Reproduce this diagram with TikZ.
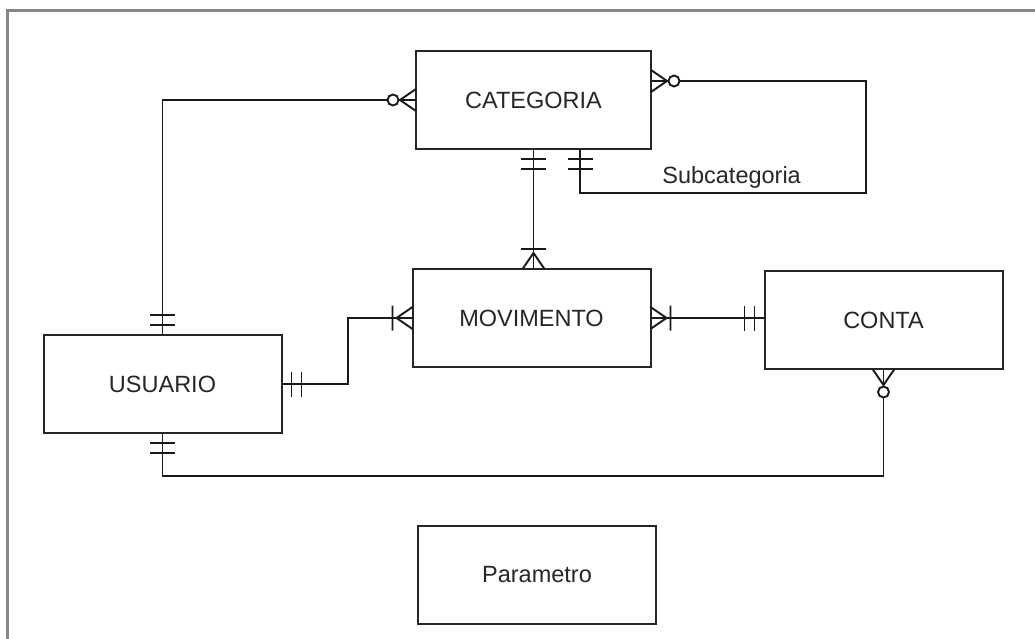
\documentclass[tikz,border=0pt]{standalone}
\usepackage{fontspec}
\setmainfont{Liberation Sans}

\tikzset{
	entity/.style={draw=black!85, line width=2pt, minimum width=238pt, minimum height=98pt,
		outer sep=0pt, text=black!85, font=\fontsize{23.5}{28}\selectfont},
	wire/.style={draw=black!90, line width=1.9pt},
	frame/.style={draw=black!47, line width=3pt},
	pics/onlyone/.style={code={\draw[wire] (10,-12.5) -- (10,12.5) (20,-12.5) -- (20,12.5);}},
	pics/onemany/.style={code={\draw[wire] (0,-11) -- (16,0) -- (0,11) (20,-12.5) -- (20,12.5);}},
	pics/zeromany/.style={code={\draw[wire] (0,-11) -- (16,0) -- (0,11); \draw[wire, fill=white] (23,0) circle (5.5);}},
}

\begin{document}
\begin{tikzpicture}[x=1pt, y=-1pt]
	\useasboundingbox (0,0) rectangle (1035,639);
	\draw[frame] (7,639) -- (7,10.5) -- (1035,10.5);
	% Entities:
	\node[entity, minimum width=235pt] (categoria) at (533.5,100) {CATEGORIA};
	\node[entity] (movimento) at (531.5,318) {MOVIMENTO};
	\node[entity] (conta) at (883.5,320) {CONTA};
	\node[entity] (usuario) at (162.5,384) {USUARIO};
	\node[entity] (parametro) at (537,574.5) {Parametro};
	% Bends:
	\coordinate (loopA) at (866,81);
	\coordinate (loopB) at (866,193);
	\coordinate (loopC) at (580,193);
	\coordinate (bendU) at (348,318);
	\coordinate (bendB) at (0,476);
	% Relationships:
	\draw[wire] (usuario.north) |- (categoria.west);
	\draw[wire] (categoria.east |- loopA) -- (loopA) -- (loopB)
		-- node[pos=0.47, above, inner sep=4pt, text=black!85, font=\fontsize{23.5}{28}\selectfont] {Subcategoria}
		(loopC) -- (loopC |- categoria.south);
	\draw[wire] (categoria.south) -- (categoria.south |- movimento.north);
	\draw[wire] (usuario.east) -| (bendU) -- (movimento.west);
	\draw[wire] (movimento.east) -- (movimento.east -| conta.west);
	\draw[wire] (usuario.south) |- (bendB -| conta.south) -- (conta.south);
	% Cardinalities:
	\pic[rotate=90] at (usuario.north) {onlyone};
	\pic[rotate=180] at (categoria.west) {zeromany};
	\pic at (categoria.east |- loopA) {zeromany};
	\pic[rotate=-90] at (loopC |- categoria.south) {onlyone};
	\pic[rotate=-90] at (categoria.south) {onlyone};
	\pic[rotate=90] at (categoria.south |- movimento.north) {onemany};
	\pic at (usuario.east) {onlyone};
	\pic[rotate=180] at (movimento.west) {onemany};
	\pic at (movimento.east) {onemany};
	\pic[rotate=180] at (movimento.east -| conta.west) {onlyone};
	\pic[rotate=-90] at (usuario.south) {onlyone};
	\pic[rotate=-90] at (conta.south) {zeromany};
\end{tikzpicture}
\end{document}
